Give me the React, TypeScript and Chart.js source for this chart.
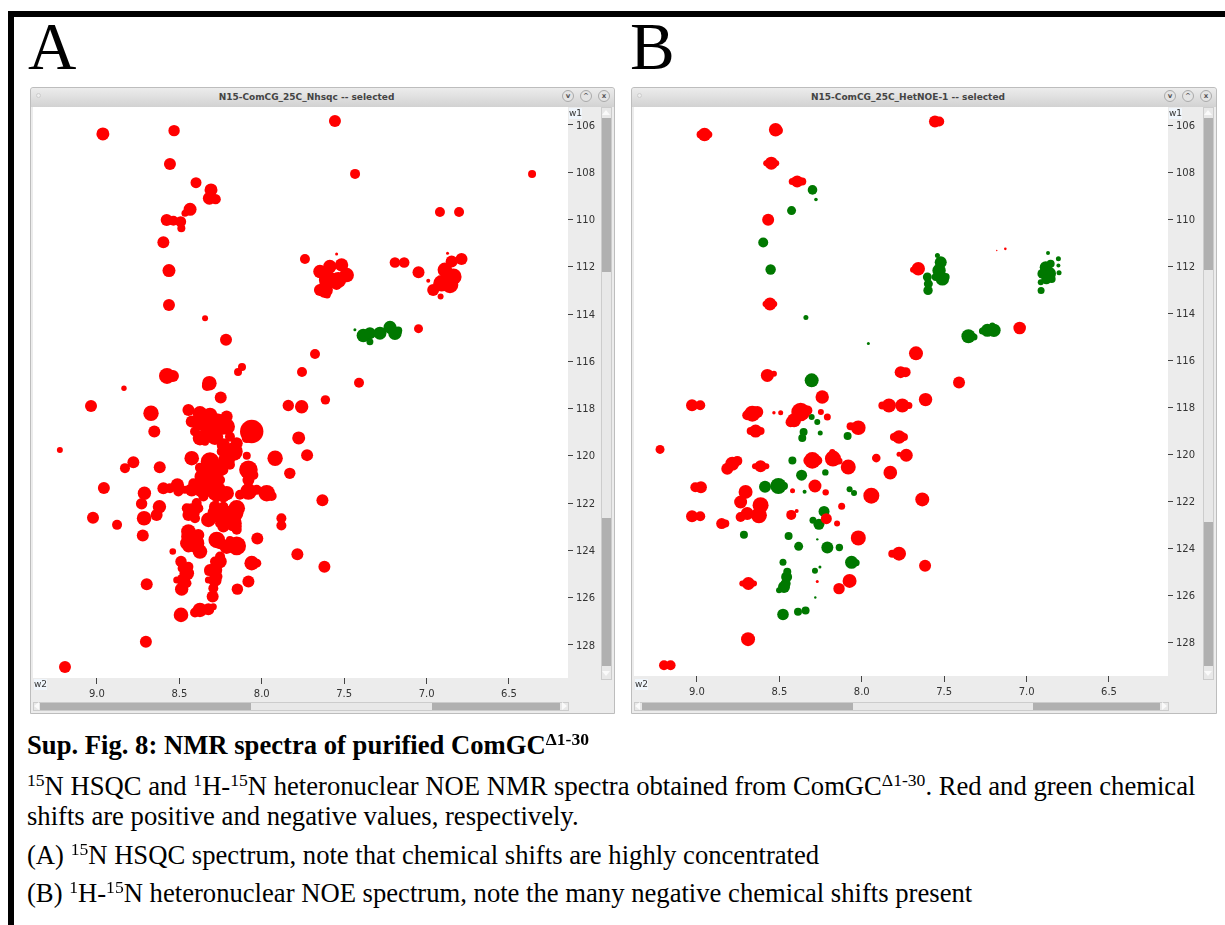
import React, { useEffect, useRef } from "react";
import { Chart, registerables } from "chart.js";

Chart.register(...registerables);

type Peak = [number, number, number];

const w2Ticks = [9.0, 8.5, 8.0, 7.5, 7.0, 6.5];
const w1Ticks = [106, 108, 110, 112, 114, 116, 118, 120, 122, 124, 126, 128];

// Panel A: [w2 ppm, w1 ppm, peak size]
const hsqcPositive: Peak[] = [
  [8.964,106.38,6.5],[8.532,106.24,5.7],[7.556,105.83,6],[8.557,107.65,6],[8.399,108.44,5.5],[8.308,108.75,6.5],[8.318,109.1,6.5],[8.28,109.14,5.2],
  [7.434,108.07,5],[6.36,108.07,4],[6.919,109.68,5],[6.803,109.68,5],[8.435,109.57,6.5],[8.466,109.74,3.5],[8.577,110.02,6],[8.536,110.05,5],[8.492,110.09,5.5],[8.488,110.37,4],
  [8.597,110.96,6],[8.563,112.16,6.5],[8.563,113.62,6],[8.344,114.18,3],[8.217,115.09,6],
  [7.738,111.67,5],[7.647,112.2,6.7],[7.587,111.99,6.7],[7.516,111.92,6.7],[7.485,112.35,7.3],[7.597,112.56,9.3],[7.536,112.56,8],[7.617,112.98,8],[7.546,111.46,1.5],[7.603,113.19,3.5],[7.647,112.98,6],[7.546,112.77,5],
  [7.192,111.82,5.3],[7.136,111.82,5.3],[7.049,112.23,6],[6.99,112.59,2],[6.873,111.43,1.5],[6.788,111.67,6],[6.848,111.78,6],[6.889,112.13,7.3],[6.838,112.42,8.3],[6.909,112.7,8.3],[6.858,112.77,8.3],[6.96,112.98,6],[6.915,113.26,3],
  [7.049,114.62,4.5],[7.677,115.69,5],[7.41,116.91,5],[7.756,116.45,5],[8.12,116.24,4],[8.144,116.45,4],[8.333,117.04,5],[8.575,116.62,8],[8.539,116.62,6],
  [9.036,117.89,6],[9.225,119.75,3],[8.958,121.36,6],[9.024,122.62,6],[8.703,127.87,6],[9.194,128.93,6],
  [8.445,118.06,6],[8.375,118.2,7.3],[8.314,118.27,7.3],[8.213,118.34,6],[8.425,118.55,6],[8.354,118.62,8.3],[8.273,118.62,10],[8.213,118.76,8.3],
  [8.375,119.25,7.3],[8.284,119.19,8.3],[8.193,119.19,5],[8.061,118.97,11.7],[8.091,119.25,5],[8.172,119.82,9.3],[8.213,120.17,8.3],[8.425,120.1,7.3],
  [8.314,120.24,9.3],[8.253,120.52,8.3],[8.091,120.0,4],[8.081,120.59,9.3],[8.051,120.81,5],[8.364,120.88,7.3],[8.314,120.88,8.3],[8.233,120.6,5],
  [8.597,121.37,6],[8.557,121.37,5],[8.512,121.23,6.7],[8.506,121.51,5],[8.425,121.44,6.7],[8.354,121.37,10],[8.273,121.51,10],[8.213,121.58,7.3],
  [8.081,121.51,8.3],[7.97,121.58,8.3],[7.94,121.7,5],[8.031,121.44,5],
  [8.425,122.36,8.3],[8.445,122.5,6],[8.385,122.22,5],[8.405,122.64,5],[8.273,121.86,2.7],[8.152,122.22,8.3],[8.233,122.15,5],
  [8.273,122.43,9.3],[8.324,122.71,7.3],[8.233,122.57,7.3],[8.253,122.85,5],[8.162,122.43,8.3],[8.172,122.85,8.3],[8.142,122.15,5],
  [8.445,123.42,7.3],[8.405,123.7,9.3],[8.375,124.05,7.3],[8.385,123.35,6],[8.445,123.2,7.3],[8.273,123.56,8.3],[8.213,123.84,7.3],[8.152,123.81,9.3],
  [8.253,124.47,6.7],[8.284,124.83,7.3],[8.284,125.25,6.7],[8.294,125.6,5],[8.298,125.95,6],[8.324,126.49,6],[8.375,126.52,7.3],[8.405,126.63,5],[8.49,126.73,7.3],
  [8.49,124.47,5.7],[8.455,124.97,7.3],[8.476,125.25,6.7],[8.486,125.64,6.7],[8.54,124.05,3.3],[8.249,117.53,6],[8.318,116.93,7.3],[8.836,117.14,2.7],
  [8.672,118.2,7.7],[8.652,118.97,6],[7.839,117.87,5.7],[7.758,117.92,6.7],[7.614,117.63,4.7],[7.776,119.24,6.5],[7.725,119.97,6],[7.919,120.1,7.7],[7.83,120.74,5.7],
  [8.619,120.48,6],[8.83,120.52,5],[8.779,120.27,6],[8.712,121.58,6.7],[8.729,122.03,5.7],[8.621,122.15,6.7],[8.638,122.5,6],[8.714,122.64,7.3],[8.878,122.92,5],
  [8.722,123.37,6],[7.632,121.88,6],[7.881,122.64,5],[7.881,122.95,5],[8.027,123.5,6],[8.061,124.54,7.3],[8.03,124.54,4.5],[7.784,124.16,6],[7.62,124.69,6],
  [8.698,125.43,6],[8.081,125.32,6],[8.148,125.64,5.7],
  [8.334,119.04,6.7],[8.233,119.54,6.7],[8.152,119.47,6],[8.243,119.82,5],[8.375,120.5,5],[8.294,120.6,5],[8.253,121.02,5],[8.395,121.16,4],[8.354,121.72,5],
  [8.132,121.65,5],[8.395,122.0,5],[8.233,121.72,6],[8.233,122.99,6],[8.152,123.13,5],[8.455,123.7,6.7],[8.314,124.83,6],[8.253,124.26,5],[8.324,125.25,3.5],[8.445,124.69,5],[8.516,125.25,3.5],
  [8.395,118.62,5],[8.243,118.9,5],[8.405,118.97,5],[8.344,119.4,4],[8.193,120.38,5],[8.354,120.6,5],[8.081,121.02,6],[8.415,121.16,5],[8.466,121.44,4],[8.455,122.22,5],[8.284,122.15,6],[8.213,122.36,6],
  [8.152,122.99,5],[8.445,123.84,6],[8.385,123.84,6],[8.253,123.7,6],[8.193,123.56,4],[8.284,124.47,5],[8.324,124.9,4],[8.263,125.11,4],[8.486,124.76,4],[8.455,125.39,4.7],[8.294,126.38,3.5],
];
const hsqcNegative: Peak[] = [
  [7.435,114.66,1.5],[7.384,114.91,6.7],[7.344,114.81,6],[7.344,115.17,3.5],[7.283,114.81,6.5],[7.222,114.56,6.5],[7.192,114.81,6.7],[7.172,114.7,4],
];

// Panel B: [w2 ppm, w1 ppm, peak size]
const noePositive: Peak[] = [
  [8.954,106.38,6.7],[8.978,106.38,4],[8.928,106.38,3.5],[8.523,106.18,6.7],[8.503,106.21,4],[7.556,105.83,6],[7.53,105.83,5],
  [8.549,107.6,6.5],[8.58,107.6,3],[8.519,107.6,3],[8.392,108.38,6],[8.422,108.38,3.5],[8.361,108.38,4],[8.568,110.01,6],[8.557,113.6,6.5],[8.584,113.6,3],[8.531,113.6,3],
  [7.657,112.1,6.7],[7.689,112.14,3],[7.181,111.32,0.7],[7.129,111.25,1.3],[7.042,114.62,6.3],[7.671,115.7,7],[7.41,116.94,6],[9.224,119.79,4.5],[9.03,117.91,6],[8.98,117.91,5],
  [9.01,121.4,5],[8.976,121.4,6],[9.03,122.64,6],[8.98,122.64,5],[9.2,128.98,5],[9.16,128.98,5],[8.69,127.87,7],
  [8.573,116.64,6.5],[8.533,116.57,3],[7.764,116.5,6],[7.734,116.5,5],[8.24,117.56,6.7],[8.664,118.27,8],[8.695,118.34,5],[8.634,118.2,6],[8.533,118.23,1.7],[8.492,118.23,2.5],
  [8.371,118.2,9.3],[8.411,118.55,7],[8.33,118.13,5],[8.432,118.63,5],[7.835,117.92,7],[7.875,117.92,4],[7.754,117.92,7],[7.714,117.92,3.5],[7.613,117.67,6.7],[8.248,118.2,3],[8.209,118.41,3.5],
  [8.021,118.87,7.3],[8.068,118.8,4],[8.644,119.01,6.5],[8.674,119.01,4],[8.614,119.01,4],[7.774,119.26,6.8],[7.805,119.26,4],[7.744,119.26,4],
  [8.786,120.4,7],[8.816,120.61,6],[8.755,120.28,5],[8.614,120.51,6],[8.648,120.51,3],[8.579,120.51,3],[8.3,120.26,8.3],[8.33,120.26,4],[8.27,120.26,5],
  [8.175,120.18,8],[8.179,119.9,3],[8.138,120.28,3.5],[8.082,120.54,7.5],[7.912,120.16,4.3],[7.73,120.04,6.5],[7.774,120,2.5],[7.827,120.78,6.8],[8.284,121.35,6.5],[8.42,121.55,2.5],[8.219,121.62,3.2],
  [7.942,121.76,8],[7.633,121.92,7],[8.705,121.6,7],[8.735,122.03,6.5],[8.695,122.52,6.5],[8.614,122.17,8],[8.624,122.6,8],[8.735,122.67,5],[8.85,122.95,5.5],[8.828,122.95,4],
  [8.428,122.58,5],[8.395,122.41,2],[8.122,122.21,3.5],[8.215,122.74,5.5],[8.15,122.95,3],[8.021,123.56,7.5],[7.774,124.23,7],[7.815,124.23,4],[7.616,124.75,6],
  [8.688,125.5,6.5],[8.725,125.5,3],[8.654,125.5,3],[8.074,125.39,7],[8.138,125.72,5.7],[8.27,125.42,1.5],
];
const noeNegative: Peak[] = [
  [8.299,108.74,4.8],[8.278,109.15,1.8],[8.426,109.62,4.5],[8.598,110.98,5],[8.553,112.13,5.2],[8.339,114.17,2.5],[7.96,115.28,1.5],
  [7.541,111.53,2.5],[7.521,111.82,6],[7.531,112.17,6.7],[7.511,112.53,6.7],[7.491,112.45,4],[7.551,112.45,4],[7.602,112.45,4.5],[7.596,112.74,4.5],[7.598,113.02,4.7],
  [6.87,111.43,2],[6.884,112.03,6],[6.864,112.31,7],[6.904,112.31,5],[6.854,111.89,4],[6.807,111.67,2.5],[6.807,111.96,2],[6.803,112.27,2.5],[6.848,112.53,4],[6.912,113.02,3.5],[6.914,112.67,3],[6.88,112.55,5],
  [7.353,114.97,7],[7.319,115.0,3.5],[7.238,114.72,6.5],[7.198,114.72,6.7],[7.208,114.51,3],[7.268,114.75,3.5],
  [8.304,116.85,7],[8.304,118.41,3],[8.27,118.62,3],[8.353,119.05,4],[8.361,119.31,4],[8.252,119.09,2.5],[8.086,119.22,4],[8.421,120.26,4],[8.365,120.89,5.5],[8.221,120.77,3.2],
  [8.587,121.38,6],[8.506,121.35,8],[8.472,121.35,4],[8.347,121.59,2],[8.074,121.49,3],[8.047,121.65,3],[8.229,122.43,5.5],[8.296,122.81,3.5],[8.26,122.98,5.5],
  [8.715,123.43,4],[8.444,123.48,4],[8.383,123.92,4.5],[8.27,123.62,1.2],[8.209,123.97,6],[8.136,123.97,3.7],[8.062,124.6,6.5],[8.034,124.62,3.5],[8.478,124.6,3.5],
  [8.284,124.96,3],[8.254,124.8,1.5],[8.456,125.22,5.5],[8.452,125.0,4],[8.462,125.5,5],[8.472,125.65,6],[8.502,125.79,3],[8.282,126.1,1.2],[8.478,126.82,5.8],[8.387,126.7,4],[8.341,126.65,4],
];

const toBubbles = (rows: Peak[]) => rows.map(([x, y, r]) => ({ x, y, r }));

const whitePlot = {
  id: "whitePlot",
  beforeDraw(chart: any) {
    const { ctx, chartArea: a } = chart;
    ctx.save();
    ctx.fillStyle = "#ffffff";
    ctx.fillRect(a.left, a.top, a.right - a.left, a.bottom - a.top);
    ctx.restore();
  },
};

function Spectrum(props: {
  left: number; top: number; width: number; height: number; axisW: number; axisH: number;
  xRange: [number, number]; yRange: [number, number]; positive: Peak[]; negative: Peak[];
}) {
  const ref = useRef<HTMLCanvasElement>(null);
  useEffect(() => {
    const tickFont = { family: "'DejaVu Sans'", size: 10 };
    const chart = new Chart(ref.current!, {
      type: "bubble",
      data: {
        datasets: [
          { label: "positive", data: toBubbles(props.positive), backgroundColor: "#ff0000", borderWidth: 0 },
          { label: "negative", data: toBubbles(props.negative), backgroundColor: "#007800", borderWidth: 0 },
        ],
      },
      plugins: [whitePlot],
      options: {
        animation: false,
        responsive: false,
        events: [],
        layout: { padding: 0, autoPadding: false },
        plugins: { legend: { display: false }, tooltip: { enabled: false }, title: { display: false } },
        scales: {
          x: {
            type: "linear", position: "bottom", reverse: true, min: props.xRange[1], max: props.xRange[0],
            afterBuildTicks: (s: any) => { s.ticks = w2Ticks.map((value) => ({ value })); },
            afterFit: (s: any) => { s.height = props.axisH; s.paddingLeft = 0; s.paddingRight = 0; },
            border: { display: false },
            grid: { drawOnChartArea: false, tickLength: 6, color: "#444444", tickWidth: 1 },
            ticks: { font: tickFont, color: "#333333", padding: 4, maxRotation: 0, autoSkip: false, callback: (v: any) => Number(v).toFixed(1) },
          },
          y: {
            type: "linear", position: "right", reverse: true, min: props.yRange[0], max: props.yRange[1],
            afterBuildTicks: (s: any) => { s.ticks = w1Ticks.map((value) => ({ value })); },
            afterFit: (s: any) => { s.width = props.axisW; s.paddingTop = 0; s.paddingBottom = 0; },
            border: { display: false },
            grid: { drawOnChartArea: false, tickLength: 5, color: "#444444", tickWidth: 1 },
            ticks: { font: tickFont, color: "#333333", padding: 3, labelOffset: 1, autoSkip: false, callback: (v: any) => String(v) },
          },
        },
      } as any,
    });
    return () => chart.destroy();
  }, []);
  return (
    <canvas
      ref={ref}
      width={props.width}
      height={props.height}
      style={{ position: "absolute", left: props.left, top: props.top, width: props.width, height: props.height, background: "#ececec" }}
    />
  );
}

const box = (left: number, top: number, width: number, height: number, background: string, extra: any = {}) => (
  <div style={{ position: "absolute", left, top, width, height, background, ...extra }} />
);

const tri = (left: number, top: number, dir: "up" | "down" | "left" | "right") => {
  const side = "4px solid transparent";
  const solid = "5px solid #fafafa";
  const s: any = { position: "absolute", left, top, width: 0, height: 0 };
  if (dir === "up") { s.borderLeft = side; s.borderRight = side; s.borderBottom = solid; }
  if (dir === "down") { s.borderLeft = side; s.borderRight = side; s.borderTop = solid; }
  if (dir === "left") { s.borderTop = side; s.borderBottom = side; s.borderRight = solid; }
  if (dir === "right") { s.borderTop = side; s.borderBottom = side; s.borderLeft = solid; }
  return <div style={s} />;
};

function Btn({ x, y, t }: { x: number; y: number; t: string }) {
  return (
    <div style={{
      position: "absolute", left: x - 6, top: y - 6, width: 10, height: 10, borderRadius: 6, border: "1px solid #aaa",
      background: "#e4e4e4", font: "bold 7px/10px 'DejaVu Sans'", textAlign: "center", color: "#555",
    }}>{t}</div>
  );
}

const w_btn = (w: number, i: number) => w - 47 + i * 18;

function Win(p: {
  x: number; w: number; title: string; plotW: number; plotH: number; sbX: number;
  vDark: [number, number, number, number]; hDark: [number, number, number, number];
  xRange: [number, number]; yRange: [number, number]; positive: Peak[]; negative: Peak[];
}) {
  const innerL = p.x + 3;
  const canvasW = p.sbX - innerL;
  return (
    <>
      {box(p.x, 87, p.w, 627, "#ececec", { border: "1px solid #bdbdbd", boxSizing: "border-box", borderRadius: "3px 3px 0 0" })}
      {box(p.x + 1, 88, p.w - 2, 19, "linear-gradient(#ececec,#d2d2d2)", { borderRadius: "3px 3px 0 0" })}
      <div style={{ position: "absolute", left: p.x - 1, width: p.w - 30, top: 91, textAlign: "center", font: "bold 9px/12px 'DejaVu Sans'", color: "#444" }}>{p.title}</div>
      {box(p.x + 6, 93, 5, 5, "#ededed", { borderRadius: 3, border: "1px solid #ccc", boxSizing: "border-box" })}
      <Btn x={p.x + w_btn(p.w, 0)} y={96} t="v" />
      <Btn x={p.x + w_btn(p.w, 1)} y={96} t="^" />
      <Btn x={p.x + w_btn(p.w, 2)} y={96} t="x" />
      <Spectrum left={innerL} top={107} width={canvasW} height={593} axisW={canvasW - p.plotW} axisH={593 - p.plotH} xRange={p.xRange} yRange={p.yRange} positive={p.positive} negative={p.negative} />
      <div style={{ position: "absolute", left: innerL + p.plotW + 1, top: 108, font: "9px/11px 'DejaVu Sans'", color: "#333", background: "#f0f6fc" }}>w1</div>
      <div style={{ position: "absolute", left: innerL + 1, top: 679, font: "9px/11px 'DejaVu Sans'", color: "#333", background: "#f0f6fc" }}>w2</div>
      {box(p.sbX, 107, 11, 573, "#e8e8e8", { border: "1px solid #ccc", boxSizing: "border-box" })}
      {box(p.sbX + 1, p.vDark[0], 9, p.vDark[1] - p.vDark[0], "#b0b0b0")}
      {box(p.sbX + 1, p.vDark[2], 9, p.vDark[3] - p.vDark[2], "#b0b0b0")}
      {tri(p.sbX + 1, 110, "up")}
      {tri(p.sbX + 1, 671, "down")}
      {box(innerL, 702, p.plotW + 1, 9, "#e8e8e8", { border: "1px solid #ccc", boxSizing: "border-box" })}
      {box(p.hDark[0], 703, p.hDark[1] - p.hDark[0], 7, "#b0b0b0")}
      {box(p.hDark[2], 703, p.hDark[3] - p.hDark[2], 7, "#b0b0b0")}
      {tri(innerL + 1, 702, "left")}
      {tri(innerL + p.plotW - 6, 702, "right")}
    </>
  );
}

const sup: any = { fontSize: "0.66em", verticalAlign: "baseline", position: "relative", top: "-0.5em", lineHeight: 0 };

function Line({ top, bold, children }: { top: number; bold?: boolean; children: any }) {
  return (
    <div style={{
      position: "absolute", left: 27, top, whiteSpace: "nowrap", color: "#000",
      font: `${bold ? "bold " : ""}26.65px/30px 'Liberation Serif'`,
    }}>{children}</div>
  );
}

export default function App() {
  return (
    <div style={{ position: "fixed", left: 0, top: 0, width: 1225, height: 925, background: "#fff", overflow: "hidden" }}>
      {box(8, 11, 1217, 6, "#000")}
      {box(8, 11, 6, 914, "#000")}
      <div style={{ position: "absolute", left: 28, top: 8, font: "67px/76px 'Liberation Serif'", color: "#000" }}>A</div>
      <div style={{ position: "absolute", left: 630, top: 8, font: "67px/76px 'Liberation Serif'", color: "#000" }}>B</div>
      <Win x={30} w={585} title="N15-ComCG_25C_Nhsqc -- selected" plotW={535} plotH={571} sbX={601}
        vDark={[118, 272, 518, 666]} hDark={[40, 251, 432, 560]}
        xRange={[9.388, 6.142]} yRange={[105.24, 129.4]} positive={hsqcPositive} negative={hsqcNegative} />
      <Win x={631} w={586} title="N15-ComCG_25C_HetNOE-1 -- selected" plotW={534} plotH={569} sbX={1203}
        vDark={[118, 270, 522, 666]} hDark={[642, 853, 1033, 1160]}
        xRange={[9.382, 6.142]} yRange={[105.21, 129.44]} positive={noePositive} negative={noeNegative} />
      <Line top={730} bold>Sup. Fig. 8: NMR spectra of purified ComGC<span style={sup}>Δ1-30</span></Line>
      <Line top={771}><span style={sup}>15</span>N HSQC and <span style={sup}>1</span>H-<span style={sup}>15</span>N heteronuclear NOE NMR spectra obtained from ComGC<span style={sup}>Δ1-30</span>. Red and green chemical</Line>
      <Line top={801}>shifts are positive and negative values, respectively.</Line>
      <Line top={840}>(A) <span style={sup}>15</span>N HSQC spectrum, note that chemical shifts are highly concentrated</Line>
      <Line top={878}>(B) <span style={sup}>1</span>H-<span style={sup}>15</span>N heteronuclear NOE spectrum, note the many negative chemical shifts present</Line>
    </div>
  );
}
